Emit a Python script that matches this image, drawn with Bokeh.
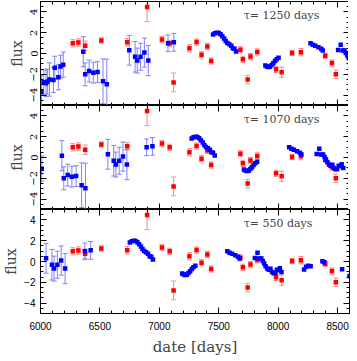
from bokeh.plotting import figure
from bokeh.layouts import column
from bokeh.models import Range1d, SingleIntervalTicker, LinearAxis, Label
from bokeh.embed import file_html
from bokeh.resources import INLINE

# ---- data ----
# red series (same in every panel)
red_date = [6272, 6319, 6376, 6512, 6730, 6897, 7022, 7087, 7120, 7253, 7313, 7355, 7404,
            7436, 7682, 7703, 7743, 7767, 7824, 7982, 8029, 8117, 8191, 8396, 8452, 8485]
red_flux = [0.98, 1.06, 0.75, 1.25, 1.08, 4.47, 1.35, 0.98, -2.78, 0.50, 1.10, -0.12, 0.68,
            -0.72, 0.35, -0.56, -2.50, -0.30, 0.15, -1.52, -1.80, 0.06, 0.13, -0.22, -0.92, -2.00]
red_err = [0.35, 0.35, 0.45, 0.25, 0.35, 1.4, 0.3, 0.3, 0.9, 0.35, 0.3, 0.3, 0.3,
           0.3, 0.3, 0.3, 0.4, 0.3, 0.3, 0.3, 0.5, 0.25, 0.35, 0.25, 0.3, 0.4]

# blue series (unshifted dates); each panel shifts it by tau
blue_date = [4758, 4777, 4797, 4810, 4826, 4859, 4870, 4900, 4919, 4941,
             5110, 5126, 5159, 5194, 5230, 5276, 5308,
             5497, 5546, 5564, 5592, 5624, 5657, 5823, 5872,
             6202, 6218, 6235, 6250, 6265, 6280, 6295, 6308, 6322, 6338, 6355, 6368, 6382, 6396,
             6642, 6655, 6668, 6681, 6695, 6709, 6723, 6737, 6753,
             7022, 7041, 7062, 7088, 7112, 7125,
             7254, 7276, 7292, 7308, 7320, 7332, 7344, 7357, 7371, 7385, 7398, 7412, 7426,
             7439, 7451, 7464, 7478,
             7668, 7685, 7704, 7723, 7822, 7837, 7988, 8050]
blue_flux = [-3.69, -2.76, -2.85, -2.70, -2.50, -2.56, -1.36, -2.29, -1.26, -1.07,
             0.17, -2.00, -1.69, -1.84, -1.79, -2.67, -2.95,
             0.31, -0.31, -0.68, -0.31, 0.09, -0.68, 0.98, 1.07,
             1.82, 1.95, 2.00, 1.98, 1.85, 1.65, 1.45, 1.20, 1.02, 0.88, 0.75, 0.50, 0.45, 0.20,
             -1.15, -1.25, -1.30, -1.28, -1.10, -0.93, -0.73, -0.55, -0.40,
             0.98, 0.85, 0.75, 0.60, 0.46, 0.30,
             0.33, 0.85, 0.30, 0.30, 0.05, -0.20, -0.45, -0.68, -0.80, -0.70, -1.00, -1.12, -1.10,
             -0.80, -0.85, -0.65, -1.00,
             -0.78, -0.50, -0.42, -0.45, 0.03, -0.08, -0.75, -1.40]
blue_err = [1.55, 1.2, 1.3, 1.2, 1.6, 1.2, 1.1, 1.2, 1.1, 1.2,
            1.45, 1.1, 1.05, 1.0, 1.0, 2.15, 2.4,
            1.43, 1.47, 1.2, 1.3, 1.4, 1.45, 0.8, 0.85] + [0.0] * 54

taus = [1250, 1070, 550]
tau_labels = ["\u03c4= 1250 days", "\u03c4= 1070 days", "\u03c4= 550 days"]
x_start, x_end = 6000, 8600
y_start, y_end = -5, 5

SERIF = "DejaVu Serif"
SANS = "Liberation Sans"
BLUE, BLUE_ERR = "#0000ff", "#8080ff"
RED, RED_ERR = "#ff0000", "#ff8a8a"


def style_axis(ax, labels):
    ax.major_tick_in = 6
    ax.major_tick_out = 0
    ax.minor_tick_in = 3
    ax.minor_tick_out = 0
    ax.axis_line_color = "black"
    ax.major_tick_line_color = "black"
    ax.minor_tick_line_color = "black"
    if not labels:
        ax.major_label_text_color = None
        ax.major_label_standoff = 0


def err_bars(p, xs, ys, es, col):
    xx = [x for x, e in zip(xs, es) if e > 0]
    lo = [y - e for y, e in zip(ys, es) if e > 0]
    hi = [y + e for y, e in zip(ys, es) if e > 0]
    p.segment(x0=xx, y0=lo, x1=xx, y1=hi, line_color=col, line_width=1)
    p.scatter(x=xx + xx, y=lo + hi, marker="dash", size=5, line_color=col, line_width=1)


x_range = Range1d(x_start, x_end)
figs = []
n = len(taus)
for i, (tau, lab) in enumerate(zip(taus, tau_labels)):
    bottom = i == n - 1
    p = figure(frame_width=309, frame_height=104, x_range=x_range,
               y_range=Range1d(y_start, y_end), output_backend="svg", title=None,
               toolbar_location=None, x_axis_location=None, y_axis_location=None,
               min_border=0, min_border_left=38, min_border_right=1,
               min_border_top=1 if i == 0 else 0, min_border_bottom=0)
    p.xgrid.visible = False
    p.ygrid.visible = False
    p.outline_line_color = "black"
    p.background_fill_color = "white"
    p.border_fill_color = "white"

    # axes
    yl = LinearAxis(ticker=SingleIntervalTicker(interval=2, num_minor_ticks=4))
    style_axis(yl, True)
    yl.axis_label = "flux"
    yl.axis_label_text_font = SERIF
    yl.axis_label_text_font_size = "14px"
    yl.axis_label_text_font_style = "normal"
    yl.major_label_text_color = "black"
    if bottom:
        yl.major_label_text_font = SANS
        yl.major_label_text_font_size = "10px"
        yl.major_label_standoff = 5
        yl.axis_label_standoff = 2
    else:
        yl.major_label_text_font = SERIF
        yl.major_label_text_font_size = "10px"
        yl.major_label_orientation = "vertical"
        yl.major_label_standoff = 3
        yl.axis_label_standoff = 3
    p.add_layout(yl, "left")

    yr = LinearAxis(ticker=SingleIntervalTicker(interval=2, num_minor_ticks=4),
                    fixed_location=x_end)
    style_axis(yr, False)
    p.add_layout(yr, "right")

    if bottom:
        xb = LinearAxis(ticker=SingleIntervalTicker(interval=500, num_minor_ticks=5))
        style_axis(xb, True)
        xb.major_label_text_font = SANS
        xb.major_label_text_font_size = "10px"
        xb.major_label_text_color = "black"
        xb.major_label_standoff = 8
        xb.axis_label = "date [days]"
        xb.axis_label_text_font = SERIF
        xb.axis_label_text_font_size = "15px"
        xb.axis_label_text_font_style = "normal"
        xb.axis_label_standoff = 5
    else:
        xb = LinearAxis(ticker=SingleIntervalTicker(interval=500, num_minor_ticks=5),
                        fixed_location=y_start)
        style_axis(xb, False)
    p.add_layout(xb, "below")

    xa = LinearAxis(ticker=SingleIntervalTicker(interval=500, num_minor_ticks=5),
                    fixed_location=y_end)
    style_axis(xa, False)
    p.add_layout(xa, "above")

    # data
    bx = [d + tau for d in blue_date]
    err_bars(p, red_date, red_flux, red_err, RED_ERR)
    err_bars(p, bx, blue_flux, blue_err, BLUE_ERR)
    p.scatter(x=red_date, y=red_flux, marker="square", size=4.5,
              fill_color=RED, line_color=None)
    p.scatter(x=bx, y=blue_flux, marker="square", size=4.5,
              fill_color=BLUE, line_color=None)

    p.add_layout(Label(x=7710, y=3.7, text=lab, text_font=SERIF,
                       text_font_size="11px", text_baseline="middle"))
    figs.append(p)

layout = column(*figs, spacing=0)
open("out.html", "w").write(file_html(layout, INLINE))
